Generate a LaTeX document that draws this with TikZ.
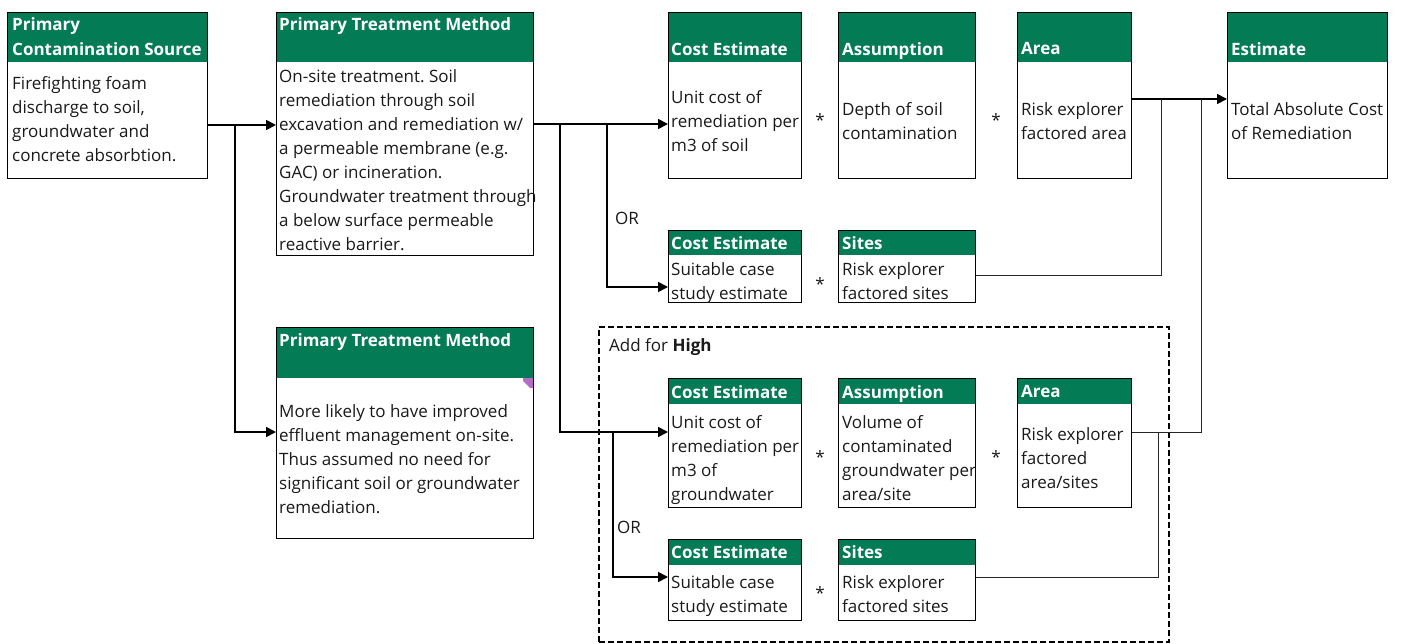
\documentclass[tikz,border=0pt]{standalone}
\usepackage{fontspec}
\setmainfont{Open Sans}
\usetikzlibrary{arrows.meta}
\definecolor{hdgreen}{RGB}{3,123,84}
\definecolor{notemark}{RGB}{181,108,200}
\frenchspacing
\begin{document}
\begin{tikzpicture}[x=1pt,y=-1pt,
  font=\fontsize{17}{24}\selectfont,
  frame/.style={draw=black, line width=1.4pt, anchor=north west, inner sep=0pt},
  hdr/.style={fill=hdgreen, anchor=north west, inner sep=0pt},
  ttl/.style={anchor=north west, inner sep=0pt, text=white, font=\fontsize{17}{25}\selectfont\bfseries, align=left},
  txt/.style={anchor=north west, inner sep=0pt, text=black!90, align=left},
  mult/.style={inner sep=0pt, text=black!90},
  conn/.style={line width=1.7pt, draw=black},
  arr/.style={conn, -{Triangle[length=10pt,width=10pt]}},
  feed/.style={line width=0.9pt, draw=black!85},
  highbox/.style={draw=black, line width=2.3pt, dash pattern=on 6pt off 3pt, anchor=north west, inner sep=0pt}
]
\useasboundingbox (0,0) rectangle (1405,644);

% ---------- source and treatment methods ----------
\node[hdr, minimum width=200pt, minimum height=50pt] (srcH) at (7,12) {};
\node[frame, minimum width=200pt, minimum height=166pt] (src) at (7,12) {};
\node[ttl] (srcT) at (12,17.5) {Primary\\Contamination Source};
\node[txt] (srcB) at (12,76.5) {Firefighting foam\\discharge to soil,\\groundwater and\\concrete absorbtion.};

\node[hdr, minimum width=257pt, minimum height=50pt] (ptmH) at (276,12) {};
\node[frame, minimum width=257pt, minimum height=243pt] (ptm) at (276,12) {};
\node[ttl] (ptmT) at (279,17.5) {Primary Treatment Method};
\node[txt] (ptmB) at (279,69.5) {On-site treatment. Soil\\remediation through soil\\excavation and remediation w/\\a permeable membrane (e.g.\\GAC) or incineration.\\Groundwater treatment through\\a below surface permeable\\reactive barrier.};

\node[hdr, minimum width=257pt, minimum height=51pt] (ptmlH) at (276,327) {};
\node[frame, minimum width=257pt, minimum height=211pt] (ptml) at (276,327) {};
\node[ttl] (ptmlT) at (279,333.5) {Primary Treatment Method};
\node[txt] (ptmlB) at (279,404.5) {More likely to have improved\\effluent management on-site.\\Thus assumed no need for\\significant soil or groundwater\\remediation.};
\fill[notemark] (523,378) -- (533,378) -- (533,388) -- (530,388) -- (523,381) -- cycle;

% ---------- soil estimate row ----------
\node[hdr, minimum width=133pt, minimum height=50pt] (ceaH) at (668,12) {};
\node[frame, minimum width=133pt, minimum height=166pt] (cea) at (668,12) {};
\node[ttl] (ceaT) at (671,42.5) {Cost Estimate};
\node[txt] (ceaB) at (671,90.5) {Unit cost of\\remediation per\\m3 of soil};

\node[hdr, minimum width=137pt, minimum height=50pt] (asaH) at (838,12) {};
\node[frame, minimum width=137pt, minimum height=166pt] (asa) at (838,12) {};
\node[ttl] (asaT) at (842,42.5) {Assumption};
\node[txt] (asaB) at (842,102.5) {Depth of soil\\contamination};

\node[hdr, minimum width=114pt, minimum height=50pt] (araH) at (1017,12) {};
\node[frame, minimum width=114pt, minimum height=166pt] (ara) at (1017,12) {};
\node[ttl] (araT) at (1021,42.5) {Area};
\node[txt] (araB) at (1021,102.5) {Risk explorer\\factored area};

\node[hdr, minimum width=160pt, minimum height=50pt] (estH) at (1227,12) {};
\node[frame, minimum width=160pt, minimum height=166pt] (est) at (1227,12) {};
\node[ttl] (estT) at (1231,42.5) {Estimate};
\node[txt] (estB) at (1231,102.5) {Total Absolute Cost\\of Remediation};

\node[mult] (sa1) at (820,120) {*};
\node[mult] (sa2) at (996,120) {*};

% ---------- case study row ----------
\node[hdr, minimum width=133pt, minimum height=25pt] (cebH) at (668,230) {};
\node[frame, minimum width=133pt, minimum height=72pt] (ceb) at (668,230) {};
\node[ttl] (cebT) at (671,236.5) {Cost Estimate};
\node[txt] (cebB) at (671,262.5) {Suitable case\\study estimate};

\node[hdr, minimum width=137pt, minimum height=25pt] (sibH) at (838,230) {};
\node[frame, minimum width=137pt, minimum height=72pt] (sib) at (838,230) {};
\node[ttl] (sibT) at (842,236.5) {Sites};
\node[txt] (sibB) at (842,262.5) {Risk explorer\\factored sites};

\node[mult] (sb1) at (820,284) {*};

% ---------- additional groundwater estimate ----------
\node[highbox, minimum width=570pt, minimum height=315pt] (high) at (598,326) {};
\node[txt] (highT) at (609,338.5) {Add for \textbf{High}};

\node[hdr, minimum width=133pt, minimum height=26pt] (cecH) at (668,378) {};
\node[frame, minimum width=133pt, minimum height=129pt] (cec) at (668,378) {};
\node[ttl] (cecT) at (671,385.5) {Cost Estimate};
\node[txt] (cecB) at (671,415.5) {Unit cost of\\remediation per\\m3 of\\groundwater};

\node[hdr, minimum width=137pt, minimum height=26pt] (ascH) at (838,378) {};
\node[frame, minimum width=137pt, minimum height=129pt] (asc) at (838,378) {};
\node[ttl] (ascT) at (842,385.5) {Assumption};
\node[txt] (ascB) at (842,415.5) {Volume of\\contaminated\\groundwater per\\area/site};

\node[hdr, minimum width=114pt, minimum height=26pt] (arcH) at (1017,378) {};
\node[frame, minimum width=114pt, minimum height=129pt] (arc) at (1017,378) {};
\node[ttl] (arcT) at (1021,385.5) {Area};
\node[txt] (arcB) at (1021,427.5) {Risk explorer\\factored\\area/sites};

\node[mult] (sc1) at (820,457) {*};
\node[mult] (sc2) at (996,457) {*};

\node[hdr, minimum width=133pt, minimum height=26pt] (cedH) at (668,539) {};
\node[frame, minimum width=133pt, minimum height=81pt] (ced) at (668,539) {};
\node[ttl] (cedT) at (671,545.5) {Cost Estimate};
\node[txt] (cedB) at (671,575.5) {Suitable case\\study estimate};

\node[hdr, minimum width=137pt, minimum height=26pt] (sidH) at (838,539) {};
\node[frame, minimum width=137pt, minimum height=81pt] (sid) at (838,539) {};
\node[ttl] (sidT) at (842,545.5) {Sites};
\node[txt] (sidB) at (842,575.5) {Risk explorer\\factored sites};

\node[mult] (sd1) at (820,593) {*};

% ---------- OR labels ----------
\node[txt] (or1) at (615,211.5) {OR};
\node[txt] (or2) at (617,520.5) {OR};

% ---------- branching points ----------
\coordinate (ja) at (235,125);
\coordinate (jb) at (235,432);
\coordinate (ka) at (560,124);
\coordinate (kb) at (607,124);
\coordinate (kc) at (607,287);
\coordinate (kd) at (560,432);
\coordinate (ke) at (613,432);
\coordinate (kf) at (613,577);
\coordinate (ma) at (1161,99);
\coordinate (mb) at (1161,275);
\coordinate (mc) at (1201,99);
\coordinate (md) at (1201,432);
\coordinate (me) at (1158,432);
\coordinate (mf) at (1158,577);

% ---------- connectors ----------
\draw[arr] (src.east |- ja) -- (ptm.west |- ja);
\draw[arr] (ja) -- (jb) -- (ptml.west |- jb);

\draw[arr] (ptm.east |- ka) -- (cea.west |- ka);
\draw[arr] (kb) -- (kc) -- (ceb.west |- kc);
\draw[arr] (ka) -- (kd) -- (cec.west |- kd);
\draw[arr] (ke) -- (kf) -- (ced.west |- kf);

\draw[arr] (ara.east |- ma) -- (est.west |- ma);
\draw[feed] (sib.east |- mb) -- (mb) -- (ma);
\draw[feed] (arc.east |- md) -- (md) -- (mc);
\draw[feed] (sid.east |- mf) -- (mf) -- (me);
\end{tikzpicture}
\end{document}
